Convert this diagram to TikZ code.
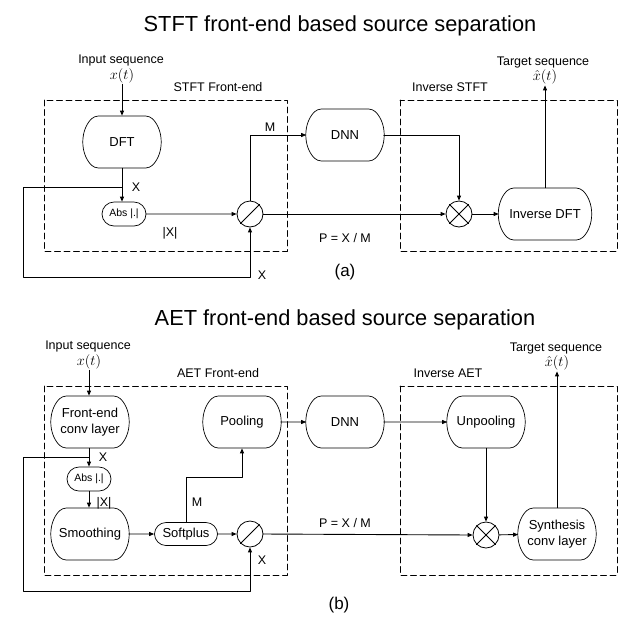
\documentclass[tikz,border=0pt]{standalone}
\usepackage{fontspec}
\setmainfont{Liberation Sans}
\usepackage{amsmath}
\usetikzlibrary{arrows.meta,shapes.misc}
\tikzset{
  block/.style={draw,line width=.7pt,rounded rectangle,rounded rectangle arc length=90,
    rounded corners=4pt,minimum width=81pt,minimum height=52pt,align=center,inner sep=2pt,
    font=\fontsize{13}{15.5}\selectfont},
  smallblock/.style={block,rounded rectangle arc length=180,rounded corners=0pt,
    minimum width=48pt,minimum height=24pt,font=\fontsize{10.5}{12}\selectfont},
  opnode/.style={draw,line width=.8pt,circle,minimum size=26pt,inner sep=0pt},
  arr/.style={-{Triangle[length=5pt,width=4pt]},line width=.9pt},
  frame/.style={line width=.8pt,dash pattern=on 6pt off 3.5pt},
  lbl/.style={font=\fontsize{12.5}{14}\selectfont},
  io/.style={align=center,font=\fontsize{12.5}{14}\selectfont,inner sep=1pt},
  sigl/.style={font=\fontsize{14}{14}\selectfont,inner sep=1pt},
  ttl/.style={font=\fontsize{21.8}{26}\selectfont},
  sub/.style={font=\fontsize{17}{19}\selectfont}
}
\begin{document}
\begin{tikzpicture}[line cap=round,line join=round,x=1pt,y=-1pt]
\useasboundingbox (0,0) rectangle (642,630);
% ---- (a) STFT
\node[ttl] (ttlA) at (340,26) {STFT front-end based source separation};
\draw[frame] (44,100) rectangle (287,251);
\draw[frame] (400,100) rectangle (617,251);
\node[lbl] (frA) at (218,87) {STFT Front-end};
\node[lbl] (invA) at (450,87) {Inverse STFT};
\node[io] (inA) at (121,60) {Input sequence};
\node[sigl] (sinA) at (122,76) {$x(t)$};
\node[block] (dftA) at (122,142) {DFT};
\node[smallblock] (absA) at (124,214) {Abs |.|};
\node[opnode] (divA) at (250,214) {};
\draw[line width=.8pt] (divA.south west) -- (divA.north east);
\node[block] (dnnA) at (345,135) {DNN};
\node[opnode] (mulA) at (459,214) {};
\draw[line width=.8pt] (mulA.south west) -- (mulA.north east) (mulA.north west) -- (mulA.south east);
\node[block,minimum width=96pt] (idftA) at (545,214) {Inverse DFT};
\node[io] (outA) at (543,62) {Target sequence};
\node[sigl] (soutA) at (545,77) {$\hat{x}(t)$};
\coordinate (splitA) at (122,187);
\coordinate (fbA1) at (23,187);
\coordinate (fbA2) at (23,277);
\draw[arr] (sinA.south) -- (dftA.north);
\draw[arr] (dftA.south) -- (dftA.south |- absA.north);
\draw[arr] (splitA) -- (fbA1) -- (fbA2) -| (divA.south);
\draw[arr] (absA) -- (divA);
\draw[arr] (divA.north) |- (dnnA.west);
\draw[arr] (dnnA.east) -| (mulA.north);
\draw[arr] (divA.east) -- (mulA.west);
\draw[arr] (mulA) -- (idftA);
\draw[arr] (idftA.north) -- (soutA.south);
\node[lbl] (xA1) at (136,187) {X};
\node[lbl] (xA2) at (262,275) {X};
\node[lbl] (mA) at (270,127) {M};
\node[lbl] (magA) at (170,233) {|X|};
\node[lbl] (pA) at (345,238) {P = X / M};
\node[sub] (capA) at (345,272) {(a)};
% ---- (b) AET
\node[ttl] (ttlB) at (345,320) {AET front-end based source separation};
\draw[frame] (44,386) rectangle (287,575);
\draw[frame] (400,386) rectangle (617,575);
\node[lbl] (frB) at (218,373) {AET Front-end};
\node[lbl] (invB) at (448,373) {Inverse AET};
\node[io] (inB) at (88,346) {Input sequence};
\node[sigl] (sinB) at (89,362) {$x(t)$};
\node[block] (feB) at (90,422) {Front-end\\ conv layer};
\node[smallblock] (absB) at (89,479) {Abs |.|};
\node[block] (smB) at (90,534) {Smoothing};
\node[smallblock,minimum width=67pt,minimum height=23pt,font=\fontsize{13}{15}\selectfont] (spB) at (186,534) {Softplus};
\node[opnode] (divB) at (250,534) {};
\draw[line width=.8pt] (divB.south west) -- (divB.north east);
\node[block] (poolB) at (242,422) {Pooling};
\node[block] (dnnB) at (345,422) {DNN};
\node[block] (unpB) at (486,422) {Unpooling};
\node[opnode] (mulB) at (486,535) {};
\draw[line width=.8pt] (mulB.south west) -- (mulB.north east) (mulB.north west) -- (mulB.south east);
\node[block] (synB) at (557,534) {Synthesis\\ conv layer};
\node[io] (outB) at (556,348) {Target sequence};
\node[sigl] (soutB) at (557,363) {$\hat{x}(t)$};
\coordinate (splitB) at (89,457);
\coordinate (fbB1) at (23,457);
\coordinate (fbB2) at (23,591);
\coordinate (mB2) at (242,477);
\draw[arr] (sinB.south) -- (sinB.south |- feB.north);
\draw[arr] (feB.south -| absB) -- (absB.north);
\draw[arr] (splitB) -- (fbB1) -- (fbB2) -| (divB.south);
\draw[arr] (absB.south) -- (absB.south |- smB.north);
\draw[arr] (smB) -- (spB);
\draw[arr] (spB) -- (divB);
\draw[arr] (spB.north) |- (mB2) -- (poolB.south);
\draw[arr] (poolB) -- (dnnB);
\draw[arr] (dnnB) -- (unpB);
\draw[arr] (unpB.south) -- (mulB.north);
\draw[arr] (divB.east) -- (mulB.west);
\draw[arr] (mulB) -- (synB);
\draw[arr] (synB.north) -- (soutB.south);
\node[lbl] (xB1) at (103,457) {X};
\node[lbl] (magB) at (104,503) {|X|};
\node[lbl] (mB) at (197,502) {M};
\node[lbl] (xB2) at (262,560) {X};
\node[lbl] (pB) at (345,523) {P = X / M};
\node[sub] (capB) at (339,605) {(b)};
\end{tikzpicture}
\end{document}
